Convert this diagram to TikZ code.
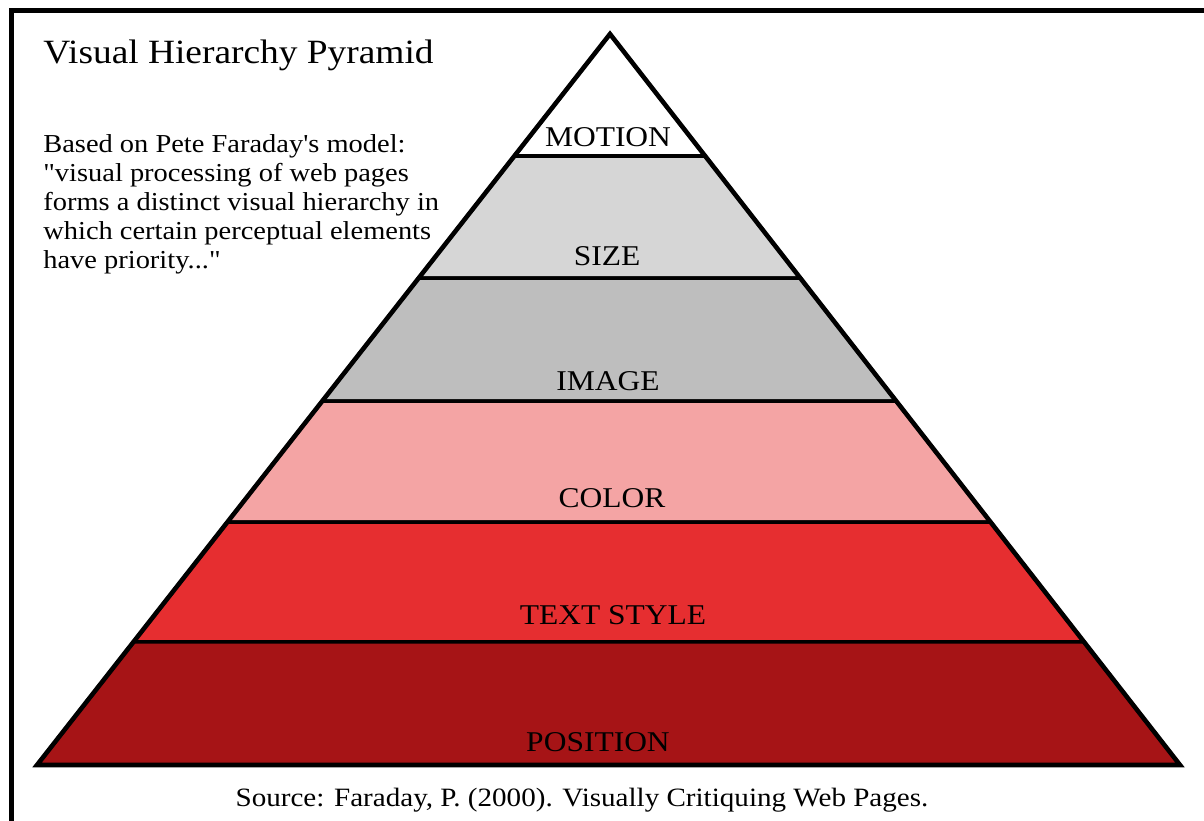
\documentclass[tikz,border=0pt]{standalone}
\usepackage{fontspec}
\setmainfont{Liberation Serif}[FakeStretch=1.1,Ligatures=TeXOff]
\usetikzlibrary{calc}
\definecolor{sizegray}{RGB}{214,214,214}
\definecolor{imagegray}{RGB}{190,190,190}
\definecolor{colorpink}{RGB}{244,164,164}
\definecolor{stylered}{RGB}{230,46,48}
\definecolor{posred}{RGB}{166,20,22}
\tikzset{
	band/.style={draw=black,line width=2pt},
	outline/.style={draw=black,line width=2.6pt},
	lbl/.style={inner sep=0pt,anchor=base,font=\fontsize{16.3}{19}\selectfont},
	txt/.style={inner sep=0pt,anchor=base west,align=left},
}

\begin{document}
\begin{tikzpicture}[x=0.02cm,y=-0.02cm]
				\useasboundingbox (0,0) rectangle (1204,821);
				\draw [line width=2.3pt] (11.5,821) -- (11.5,10.5) -- (1204,10.5);
				\coordinate (apex) at (610,34);
				\coordinate (bl) at (37,765);
				\coordinate (br) at (1180,765);
				\foreach \ta/\tb/\col/\word/\nm/\lx/\ly in {0/.1669/white/MOTION/motion/608/147,.1669/.3338/sizegray/SIZE/size/607/265,.3338/.5021/imagegray/IMAGE/image/608/390,.5021/.6676/colorpink/COLOR/color/612/507,.6676/.8317/stylered/TEXT STYLE/textstyle/613/624,.8317/1/posred/POSITION/position/598/751}{
					\filldraw [band,fill=\col] ($(apex)!\ta!(bl)$) -- ($(apex)!\ta!(br)$) -- ($(apex)!\tb!(br)$) -- ($(apex)!\tb!(bl)$) -- cycle;
					\node [lbl] (\nm) at (\lx,\ly) {\word};
				}
				\draw [outline] (bl) -- (apex) -- (br) -- cycle;
				\node [txt,font=\fontsize{19.35}{23}\selectfont] (title) at (43,64) {Visual Hierarchy Pyramid};
				% base of a multi-line node sits on its last line
				\node [txt,font=\fontsize{14.72}{16.45}\selectfont] (quote) at (43,268) {Based on Pete Faraday's model:\\"visual processing of web pages\\forms a distinct visual hierarchy in\\which certain perceptual elements\\have priority..."};
				\node [inner sep=0pt,anchor=base,font=\fontsize{15.05}{18}\selectfont] (source) at (582,806) {Source: Faraday, P. (2000). Visually Critiquing Web Pages.};
			\end{tikzpicture}
\end{document}
